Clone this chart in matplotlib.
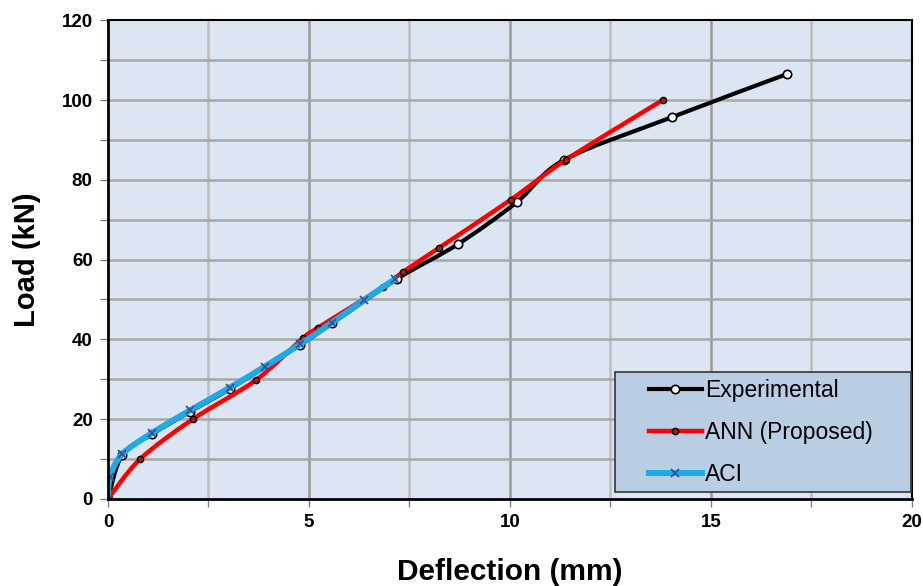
import matplotlib
matplotlib.use("Agg")
import matplotlib.pyplot as plt
from matplotlib.path import Path
from matplotlib.patches import PathPatch, Rectangle
from matplotlib.lines import Line2D
import numpy as np

plt.rcParams['font.family'] = ['Liberation Sans', 'DejaVu Sans']

# ---- data ----
exp_x = [0, 0.35, 1.09, 2.04, 3.03, 4.78, 5.57, 7.2, 8.71, 10.17, 11.35, 14.03, 16.89]
exp_y = [0, 10.9, 16.2, 21.9, 27.6, 38.6, 44.0, 55.2, 63.9, 74.4, 85, 95.7, 106.5]

ann_x = [0, 0.8, 2.11, 3.68, 4.85, 5.22, 6.84, 7.34, 8.23, 10.02, 11.39, 13.8]
ann_y = [0, 10, 20, 29.8, 40.3, 42.9, 53.1, 56.9, 62.9, 75, 85, 100]

aci_x = [0, 0.05, 0.35, 1.09, 2.04, 3.03, 3.9, 4.78, 5.57, 6.37, 7.14]
aci_y = [0, 5.5, 11.2, 16.5, 22.2, 27.9, 33.2, 38.8, 44.2, 49.9, 55.1]

x_ticks = [0, 5, 10, 15, 20]
y_ticks = [0, 20, 40, 60, 80, 100, 120]
labels = ['Experimental', 'ANN (Proposed)', 'ACI']


def smooth_path(xs, ys):
    """Catmull-Rom style Bezier through the given points (like spreadsheet smoothing)."""
    p = np.column_stack([xs, ys]).astype(float)
    n = len(p)
    verts = [p[0]]
    codes = [Path.MOVETO]
    for i in range(n - 1):
        p0 = p[i - 1] if i > 0 else p[i]
        p1 = p[i]
        p2 = p[i + 1]
        p3 = p[i + 2] if i + 2 < n else p[i + 1]
        c1 = p1 + (p2 - p0) / 6.0
        c2 = p2 - (p3 - p1) / 6.0
        verts += [c1, c2, p2]
        codes += [Path.CURVE4] * 3
    return Path(verts, codes)


fig = plt.figure(figsize=(9.23, 5.86), dpi=100)
ax = fig.add_axes([0.117, 0.1485, 0.871, 0.817])
ax.set_facecolor('#dce6f2')

series = [
    (exp_x, exp_y, 'black', 3.0, dict(marker='o', ms=6, mfc='white', mec='black', mew=1.2), 3),
    (ann_x, ann_y, '#ff0000', 3.2, dict(marker='o', ms=4.5, mfc='#a02020', mec='black', mew=1.0), 4),
    (aci_x, aci_y, '#1eaae7', 4.3, dict(marker='x', ms=5.5, mec='#2f5597', mew=1.3), 5),
]
handles = []
for xs, ys, col, lw, mk, z in series:
    patch = PathPatch(smooth_path(xs, ys), fill=False, edgecolor=col, lw=lw,
                      zorder=z, capstyle='round', joinstyle='round')
    ax.add_patch(patch)
    ax.plot(xs, ys, ls='none', zorder=z + 0.5, **mk)
    handles.append(Line2D([], [], color=col, lw=lw, **mk))

ax.set_xlim(0, 20)
ax.set_ylim(0, 120)

# grid
for gx in np.arange(2.5, 20, 2.5):
    c = '#9a9a9a' if gx % 5 == 0 else '#bdbdbd'
    ax.axvline(gx, color=c, lw=1.8, zorder=1)
for gy in np.arange(10, 120, 10):
    ax.axhline(gy, color='#a8a8a8', lw=1.8, zorder=1)

ax.set_xticks(np.arange(0, 20.1, 2.5), minor=True)
ax.set_xticks(x_ticks)
ax.set_yticks(np.arange(0, 120.1, 10), minor=True)
ax.set_yticks(y_ticks)
ax.set_xticklabels([str(v) for v in x_ticks], fontsize=13.5, fontweight='bold')
ax.set_yticklabels([str(v) for v in y_ticks], fontsize=13.5, fontweight='bold')
ax.tick_params(which='both', direction='out', length=6, width=1, color='#808080', pad=5)

for side, sp in ax.spines.items():
    sp.set_color('black')
    sp.set_linewidth(1.5 if side in ('top', 'right') else 2)
    sp.set_zorder(10)

ax.set_xlabel('Deflection (mm)', fontsize=21.5, fontweight='bold', labelpad=19)
ax.set_ylabel('Load (kN)', fontsize=21, fontweight='bold', labelpad=15)

# legend box
box = Rectangle((0.6306, 0.0146), 0.368, 0.2505, transform=ax.transAxes,
                facecolor='#b9cde5', edgecolor='#404040', lw=1.3, zorder=19)
ax.add_patch(box)
leg = ax.legend(handles, labels, loc='center left', bbox_to_anchor=(0.673, 0.139),
                fontsize=16.5, frameon=False, handlelength=2.3,
                handletextpad=0.15, labelspacing=0.82, borderpad=0.0,
                borderaxespad=0.0)
leg.set_zorder(20)

fig.savefig('out.png', dpi=100, facecolor='white')
